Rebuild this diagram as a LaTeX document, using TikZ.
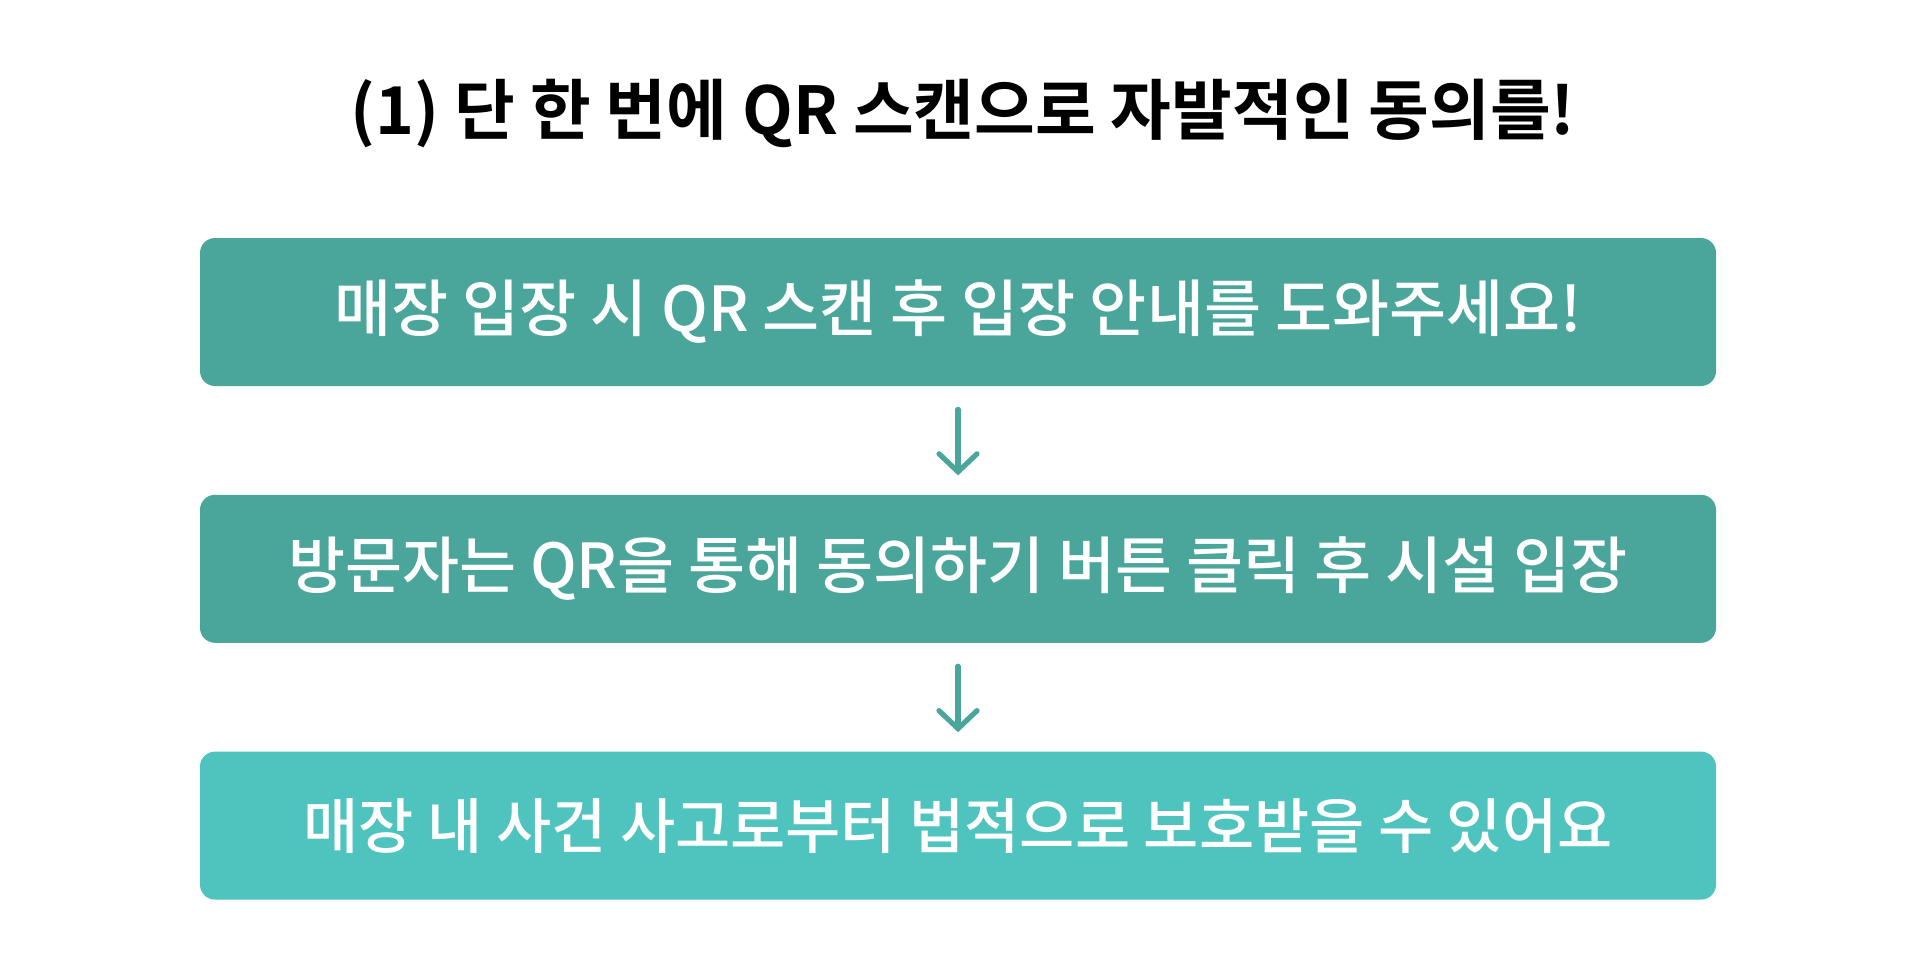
\documentclass[tikz,border=0pt]{standalone}
\usepackage{fontspec}
\usepackage{xcolor}
\usetikzlibrary{arrows.meta, positioning}
\newfontfamily\krfont{Noto Sans CJK KR Medium}
\newfontfamily\krbold{Noto Sans CJK KR Bold}
\definecolor{tealdark}{HTML}{4AA59A}
\definecolor{teallight}{HTML}{4FC3BE}

\begin{document}
\begin{tikzpicture}[
      x=0.5pt, y=-0.5pt,
      node distance=54pt,
      box/.style={rounded corners=7.5pt, fill=tealdark, text=white, font=\krfont\fontsize{31}{36}\selectfont, minimum width=758pt, minimum height=74pt, inner sep=0pt},
      ar/.style={-{Straight Barb[length=9pt, width=19pt, line cap=round]}, line width=2.6pt, line cap=round, draw=tealdark, shorten <=11.5pt, shorten >=9.5pt}
    ]
    \useasboundingbox (0,0) rectangle (1920,958);
    \node[font=\krbold\fontsize{33}{38}\selectfont] (title) at (963,113) {(1) 단 한 번에 QR 스캔으로 자발적인 동의를!};
    \node[box] (a) at (958,312) {매장 입장 시 QR 스캔 후 입장 안내를 도와주세요!};
    \node[box, below=of a] (b) {방문자는 QR을 통해 동의하기 버튼 클릭 후 시설 입장};
    \node[box, below=of b, fill=teallight, font=\krfont\fontsize{30}{36}\selectfont] (c) {매장 내 사건 사고로부터 법적으로 보호받을 수 있어요};
    \draw[ar] (a) -- (b); \draw[ar] (b) -- (c);
  \end{tikzpicture}
\end{document}
